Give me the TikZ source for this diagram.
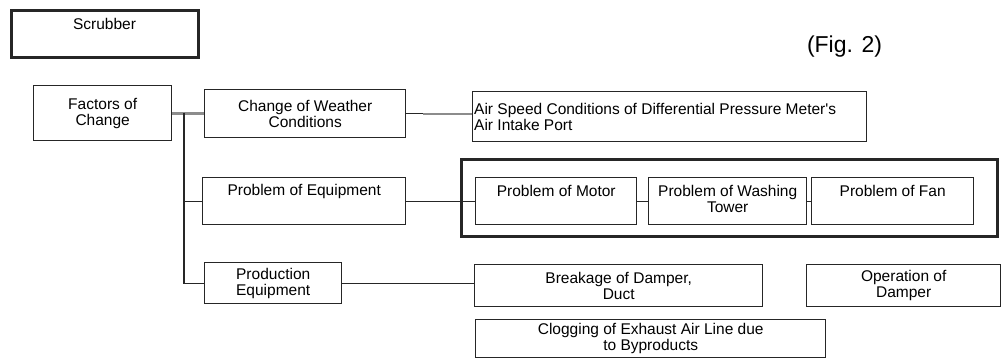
\documentclass[tikz,border=0pt]{standalone}
\usepackage{fontspec}
\setmainfont{Liberation Sans}
\tikzset{
  box/.style={draw=black!85,line width=1.4pt,inner sep=0pt,align=center,anchor=north west},
  heavybox/.style={box,line width=3pt},
  txt/.style={inner sep=0pt,align=center,font=\fontsize{15.5}{16}\selectfont},
  link/.style={draw=black!85,line width=1.4pt},
  graylink/.style={draw=black!45,line width=3pt}
}
\begin{document}
\begin{tikzpicture}[x=1pt,y=-1pt,every node/.style={txt}]
\useasboundingbox (0,0) rectangle (1003,360);
\foreach \n/\x/\y/\w/\h/\t in {fac/33/85/138/55/{Factors of\\Change},wea/204/89/201/48/{Change of Weather\\Conditions},prd/204/262/137/41/{Production\\Equipment},brk/474/264/288/42/{Breakage of Damper,\\Duct},opr/806/264/194/42/{Operation of\\Damper},clg/475/319/350/38/{Clogging of Exhaust Air Line due\\to Byproducts},air/472/91/394/50/{}}
  \node[box,minimum width=\w,minimum height=\h] (\n) at (\x,\y) {\t};
\foreach \n/\x/\y/\w/\h in {scr/9.5/8.5/187/47,big/459.5/157.5/536/77}
  \node[heavybox,minimum width=\w,minimum height=\h] (\n) at (\x,\y) {};
\foreach \n/\x/\w in {eqp/202/203,mot/475/161,was/648/158,fan/811/162}
  \node[box,minimum width=\w,minimum height=\ifx\n eqp42\else47\fi] (\n) at (\x,\ifx\n eqp176\else177\fi) {};
\node[anchor=north] (scrt) at ([yshift=-10]scr.north) {Scrubber};
\node[anchor=north] (eqpt) at ([yshift=-7]eqp.north) {Problem of Equipment};
\foreach \n/\t in {mot/Problem of Motor,was/{Problem of Washing\\Tower},fan/Problem of Fan}
  \node[anchor=north] (\n t) at ([yshift=-8]\n.north) {\t};
\node[anchor=west,align=left] (airt) at ([xshift=2]air.west) {Air Speed Conditions of Differential Pressure Meter\textquotesingle s\\Air Intake Port};
\node[font=\fontsize{23}{24}\selectfont] (fig) at (844.5,47) {(Fig. 2)};
\coordinate (trunk) at (184,112.5);
\draw[graylink] (fac.east) -- (fac.east -| wea.west);
\draw[link] (trunk) |- (prd.west);
\draw[link] (trunk |- eqp.west) -- (eqp.west);
\draw[link] (wea.east) -- ++(17,0) coordinate (wa);
\draw[graylink,line width=2pt] (wa) -- (wa -| air.west);
\draw[link] (eqp.east) -- (eqp.east -| mot.west);
\draw[link] (mot.east) -- (was.west);
\draw[link] (was.east) -- (fan.west);
\draw[link] (prd.east) -- (prd.east -| brk.west);
\end{tikzpicture}
\end{document}
